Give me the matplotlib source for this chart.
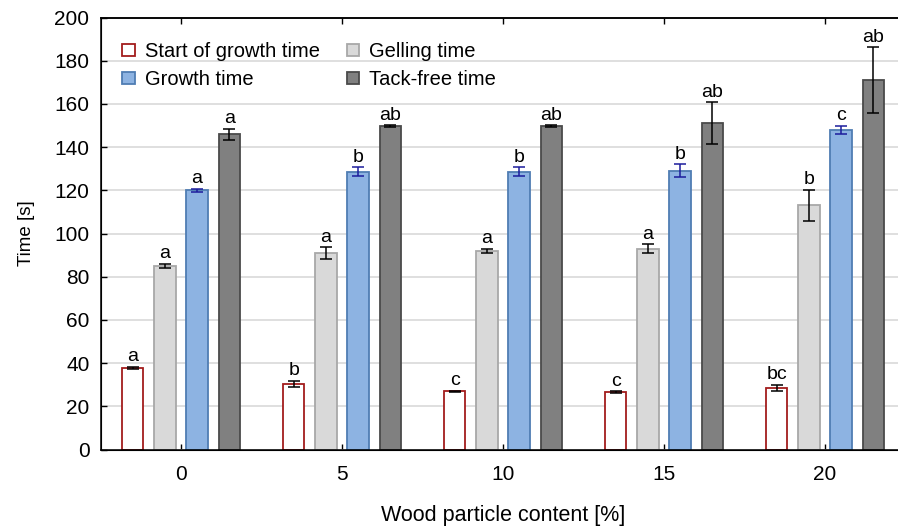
import numpy as np
import matplotlib.pyplot as plt

plt.rcParams['font.family'] = ['Liberation Sans', 'DejaVu Sans']
plt.rcParams['font.size'] = 14

# wood particle content [%]
content = ['0', '5', '10', '15', '20']

# mean times [s] and standard deviations for each stage
start_mean = [37.7, 30.3, 27.0, 26.5, 28.5]
start_sd = [0.6, 1.5, 0.3, 0.5, 1.5]
gel_mean = [85.0, 91.0, 92.0, 93.0, 113.0]
gel_sd = [1.0, 2.7, 1.0, 2.0, 7.2]
growth_mean = [120.0, 128.6, 128.6, 129.0, 148.0]
growth_sd = [0.8, 2.1, 2.0, 3.0, 2.0]
tack_mean = [146.0, 149.6, 149.6, 151.0, 171.0]
tack_sd = [2.5, 0.5, 0.5, 9.7, 15.2]

# homogeneous groups (Tukey letters)
start_grp = ['a', 'b', 'c', 'c', 'bc']
gel_grp = ['a', 'a', 'a', 'a', 'b']
growth_grp = ['a', 'b', 'b', 'b', 'c']
tack_grp = ['a', 'ab', 'ab', 'ab', 'ab']

series = [
    ('Start of growth time', start_mean, start_sd, start_grp, 'white', '#a31c1c', 'black'),
    ('Gelling time', gel_mean, gel_sd, gel_grp, '#d9d9d9', '#a8a8a8', 'black'),
    ('Growth time', growth_mean, growth_sd, growth_grp, '#8db3e2', '#4f7db3', '#1c1c9c'),
    ('Tack-free time', tack_mean, tack_sd, tack_grp, '#808080', '#4a4a4a', 'black'),
]

W, H = 898, 527
fig = plt.figure(figsize=(W / 100, H / 100), dpi=100)
# frame runs a little past the right edge of the canvas
ax = fig.add_axes([100.5 / W, 1 - 449.5 / H, 805 / W, 432 / H])

x = np.arange(len(content))
width = 0.134
step = 0.2
offsets = (np.arange(4) - 1.5) * step

bars = []
for (name, mean, sd, grp, fc, ec, errc), off in zip(series, offsets):
    xs = x + off
    b = ax.bar(xs, mean, width, color=fc, edgecolor=ec, linewidth=1.3, label=name, zorder=2)
    bars.append(b)
    ax.errorbar(xs, mean, yerr=sd, fmt='none', ecolor=errc, elinewidth=1.1,
                capsize=4, capthick=1.1, zorder=3)
    for xi, m, s, g in zip(xs, mean, sd, grp):
        ax.annotate(g, (xi, m + s), xytext=(0, 4), textcoords='offset points',
                    ha='center', va='baseline', fontsize=14, zorder=4)

ax.set_ylim(0, 200)
ax.set_yticks(np.arange(0, 201, 20))
ax.set_xlim(-0.5, 4.5)
ax.set_xticks(x)
ax.set_xticklabels(content)
ax.yaxis.grid(True, color='#d9d9d9', linewidth=1.2, zorder=0)
ax.set_axisbelow(True)

for sp in ax.spines.values():
    sp.set_linewidth(1.1)
ax.tick_params(axis='both', labelsize=15)
ax.tick_params(axis='y', direction='in', length=4, width=1, pad=8)
ax.tick_params(axis='x', direction='in', length=4, width=1, pad=11)

ax.set_ylabel('Time [s]', fontsize=13.5, labelpad=14)
ax.set_xlabel('Wood particle content [%]', fontsize=15.5, labelpad=15)

# tick marks along the top frame
top = ax.twiny()
top.set_xlim(ax.get_xlim())
top.set_xticks(x)
top.tick_params(axis='x', direction='in', length=4, width=1, labeltop=False)
top.spines['top'].set_linewidth(1.1)

# row-wise order: Start | Gelling / Growth | Tack-free
order = [0, 2, 1, 3]
ax.legend([bars[i] for i in order], [series[i][0] for i in order],
          loc='upper left', bbox_to_anchor=(122.5 / W, 1 - 42 / H),
          bbox_transform=fig.transFigure, ncol=2, frameon=False,
          handlelength=0.6, handleheight=0.55, handletextpad=0.5,
          columnspacing=1.35, labelspacing=0.45, borderpad=0, borderaxespad=0,
          fontsize=14.5)

fig.savefig('out.png', dpi=100)
